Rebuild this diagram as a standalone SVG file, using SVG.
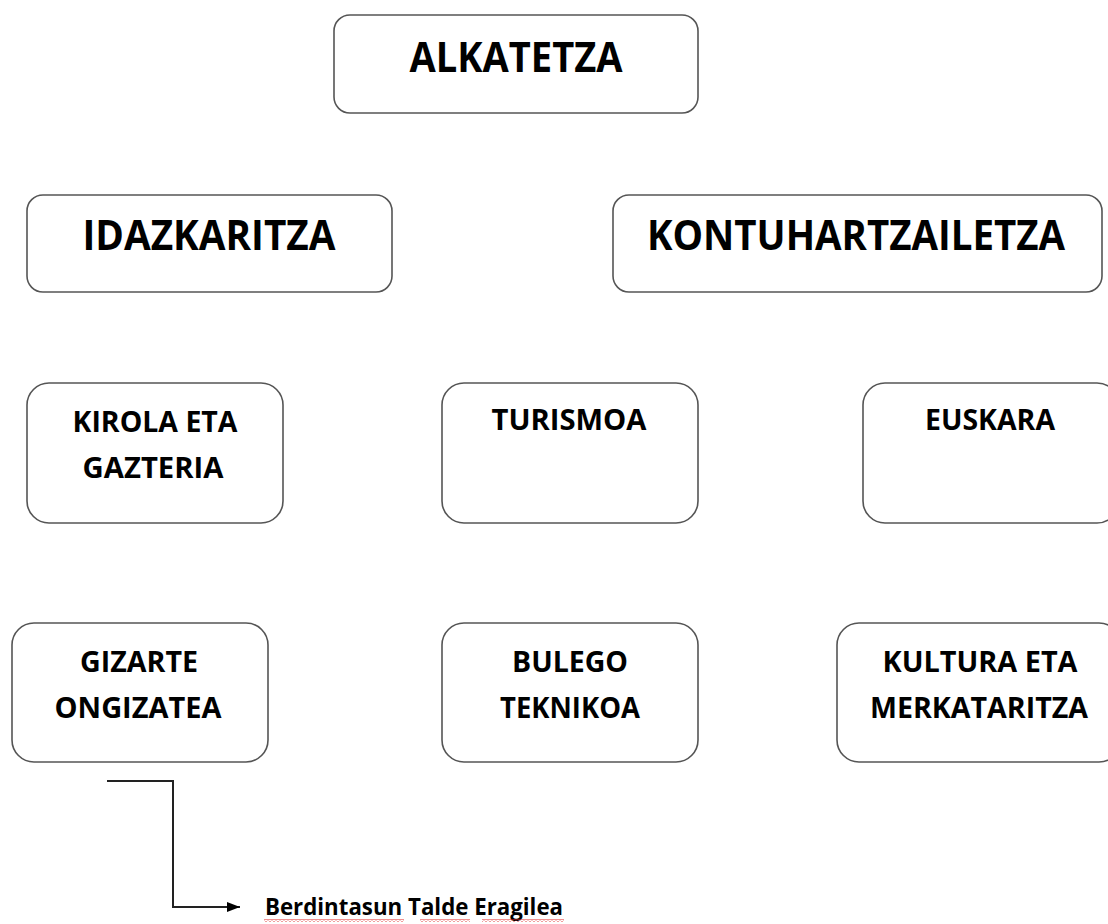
<svg xmlns="http://www.w3.org/2000/svg" width="1108" height="924" viewBox="0 0 1108 924">
<defs>
<style>
.box{fill:#fff;stroke:#555;stroke-width:1.6}
.t{font-family:"Open Sans","Liberation Sans",sans-serif;font-weight:bold;fill:#000;text-anchor:middle}
.big{font-size:42px}
.sm{font-size:28px}
.conn{fill:none;stroke:#222;stroke-width:2}
</style>
<marker id="arr" viewBox="0 0 10 10" refX="10" refY="5" markerWidth="13" markerHeight="10" markerUnits="userSpaceOnUse" orient="auto" preserveAspectRatio="none">
<path d="M0,0 L10,5 L0,10 z" fill="#000"/>
</marker>
<pattern id="wave" x="0" y="0" width="4" height="3" patternUnits="userSpaceOnUse">
<path d="M0,2.5 L2,0.5 L4,2.5" fill="none" stroke="#e02020" stroke-width="1"/>
</pattern>
</defs>
<rect width="1108" height="924" fill="#fff"/>
<g id="alkatetza">
<rect class="box" x="334" y="15" width="364" height="98" rx="16"/>
<text class="t big" x="516" y="72" textLength="213" lengthAdjust="spacingAndGlyphs">ALKATETZA</text>
</g>
<g id="idazkaritza">
<rect class="box" x="27" y="195" width="365" height="97" rx="16"/>
<text class="t big" x="209" y="250" textLength="253" lengthAdjust="spacingAndGlyphs">IDAZKARITZA</text>
</g>
<g id="kontuhartzailetza">
<rect class="box" x="613" y="195" width="489" height="97" rx="16"/>
<text class="t big" x="856" y="250" textLength="418" lengthAdjust="spacingAndGlyphs">KONTUHARTZAILETZA</text>
</g>
<g id="kirola">
<rect class="box" x="27" y="383" width="256" height="140" rx="22"/>
<text class="t sm" x="155" y="432" textLength="165" lengthAdjust="spacingAndGlyphs">KIROLA ETA</text>
<text class="t sm" x="153" y="478" textLength="141" lengthAdjust="spacingAndGlyphs">GAZTERIA</text>
</g>
<g id="turismoa">
<rect class="box" x="442" y="383" width="256" height="140" rx="22"/>
<text class="t sm" x="569" y="430" textLength="155" lengthAdjust="spacingAndGlyphs">TURISMOA</text>
</g>
<g id="euskara">
<rect class="box" x="863" y="383" width="256" height="140" rx="22"/>
<text class="t sm" x="990" y="430" textLength="130" lengthAdjust="spacingAndGlyphs">EUSKARA</text>
</g>
<g id="gizarte">
<rect class="box" x="12" y="623" width="256" height="139" rx="22"/>
<text class="t sm" x="139" y="672" textLength="118" lengthAdjust="spacingAndGlyphs">GIZARTE</text>
<text class="t sm" x="138" y="718" textLength="167" lengthAdjust="spacingAndGlyphs">ONGIZATEA</text>
</g>
<g id="bulego">
<rect class="box" x="442" y="623" width="256" height="139" rx="22"/>
<text class="t sm" x="570" y="672" textLength="116" lengthAdjust="spacingAndGlyphs">BULEGO</text>
<text class="t sm" x="570" y="718" textLength="140" lengthAdjust="spacingAndGlyphs">TEKNIKOA</text>
</g>
<g id="kultura">
<rect class="box" x="837" y="623" width="284" height="139" rx="22"/>
<text class="t sm" x="980" y="672" textLength="195" lengthAdjust="spacingAndGlyphs">KULTURA ETA</text>
<text class="t sm" x="979" y="718" textLength="218" lengthAdjust="spacingAndGlyphs">MERKATARITZA</text>
</g>
<g id="connectors">
<path class="conn" d="M107,781 H173 V907 H240" marker-end="url(#arr)"/>
</g>
<g id="berdintasun">
<text x="265" y="915" font-family="'Open Sans','Liberation Sans',sans-serif" font-weight="bold" font-size="24" fill="#000" textLength="298" lengthAdjust="spacingAndGlyphs">Berdintasun Talde Eragilea</text>
<rect x="264" y="919" width="140" height="3" fill="url(#wave)"/>
<rect x="420" y="919" width="50" height="3" fill="url(#wave)"/>
<rect x="482" y="919" width="82" height="3" fill="url(#wave)"/>
</g>
</svg>
